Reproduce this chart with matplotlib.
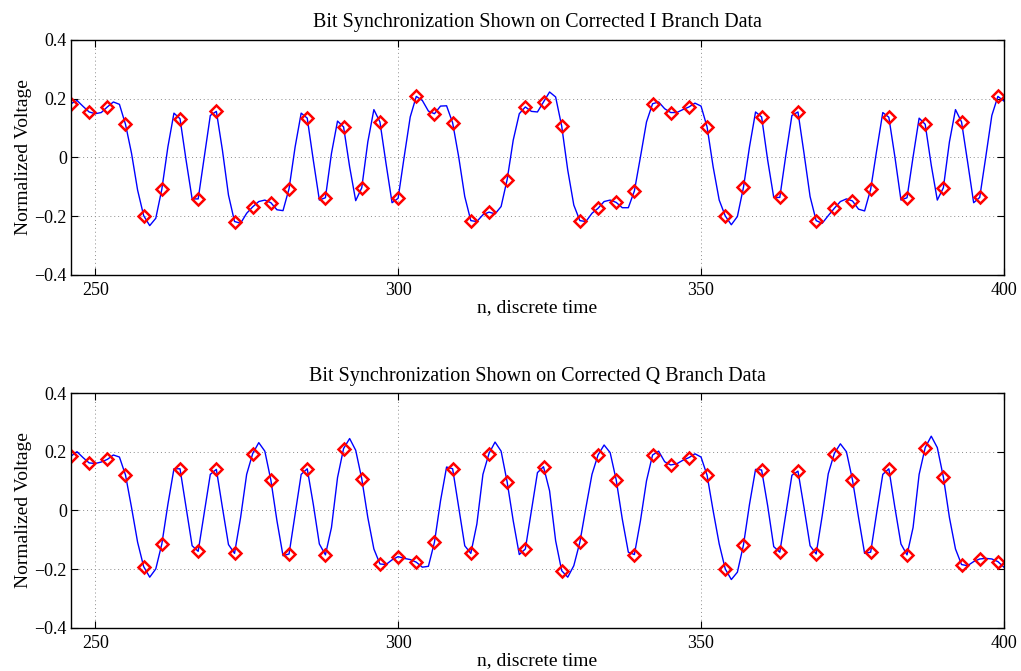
import numpy as np
import matplotlib.pyplot as plt

plt.rcParams['font.family'] = ['Liberation Serif', 'DejaVu Serif']
plt.rcParams['axes.unicode_minus'] = True

# discrete time index
n = np.arange(246, 401)

# corrected I branch samples
i_branch = [
    0.183, 0.194, 0.174, 0.155, 0.149, 0.153, 0.172, 0.189, 0.181, 0.113,
    0.014, -0.111, -0.198, -0.232, -0.207, -0.108, 0.036, 0.151, 0.132, -0.009,
    -0.141, -0.141, 0.002, 0.143, 0.157, 0.025, -0.128, -0.218, -0.224, -0.190,
    -0.168, -0.150, -0.145, -0.154, -0.178, -0.181, -0.106, 0.036, 0.151, 0.134,
    -0.009, -0.145, -0.137, 0.014, 0.124, 0.104, -0.032, -0.147, -0.103, 0.053,
    0.163, 0.121, -0.020, -0.154, -0.139, 0.002, 0.138, 0.208, 0.194, 0.158,
    0.149, 0.175, 0.176, 0.118, 0.002, -0.133, -0.215, -0.218, -0.195, -0.186,
    -0.192, -0.167, -0.075, 0.059, 0.149, 0.172, 0.157, 0.155, 0.189, 0.223,
    0.206, 0.107, -0.043, -0.162, -0.215, -0.218, -0.190, -0.173, -0.150, -0.145,
    -0.153, -0.171, -0.171, -0.114, 0.002, 0.121, 0.183, 0.189, 0.166, 0.153,
    0.153, 0.163, 0.172, 0.185, 0.175, 0.104, -0.032, -0.145, -0.199, -0.229,
    -0.201, -0.102, 0.036, 0.155, 0.138, -0.009, -0.136, -0.136, 0.008, 0.143,
    0.155, 0.014, -0.133, -0.215, -0.224, -0.198, -0.173, -0.150, -0.141, -0.148,
    -0.176, -0.182, -0.108, 0.025, 0.153, 0.137, 0.002, -0.145, -0.137, 0.002,
    0.134, 0.113, -0.026, -0.145, -0.103, 0.053, 0.163, 0.121, -0.015, -0.154,
    -0.136, 0.002, 0.143, 0.208, 0.192,
]

# corrected Q branch samples
q_branch = [
    0.185, 0.200, 0.180, 0.162, 0.160, 0.165, 0.174, 0.189, 0.182, 0.121,
    0.010, -0.108, -0.191, -0.227, -0.199, -0.114, 0.021, 0.142, 0.142, 0.010,
    -0.120, -0.139, -0.007, 0.123, 0.140, 0.010, -0.116, -0.146, -0.024, 0.123,
    0.194, 0.231, 0.202, 0.103, -0.035, -0.154, -0.148, -0.012, 0.123, 0.142,
    0.021, -0.114, -0.151, -0.058, 0.112, 0.211, 0.245, 0.205, 0.108, -0.024,
    -0.131, -0.182, -0.184, -0.168, -0.157, -0.163, -0.167, -0.176, -0.193, -0.190,
    -0.108, 0.033, 0.148, 0.142, 0.010, -0.120, -0.146, -0.046, 0.123, 0.194,
    0.233, 0.202, 0.097, -0.035, -0.150, -0.131, -0.001, 0.129, 0.149, 0.067,
    -0.103, -0.205, -0.227, -0.188, -0.108, 0.010, 0.123, 0.189, 0.223, 0.197,
    0.104, -0.029, -0.142, -0.150, -0.035, 0.101, 0.189, 0.202, 0.166, 0.155,
    0.159, 0.171, 0.180, 0.193, 0.182, 0.120, -0.001, -0.114, -0.199, -0.235,
    -0.210, -0.118, 0.021, 0.140, 0.138, 0.016, -0.123, -0.142, -0.012, 0.120,
    0.134, 0.010, -0.120, -0.148, -0.018, 0.125, 0.194, 0.227, 0.200, 0.104,
    -0.024, -0.146, -0.142, -0.007, 0.123, 0.142, 0.010, -0.114, -0.151, -0.058,
    0.123, 0.214, 0.253, 0.214, 0.114, -0.024, -0.131, -0.184, -0.188, -0.174,
    -0.165, -0.163, -0.165, -0.174, -0.193,
]

# symbol-rate decision points: every third sample
step = 3

fig = plt.figure(figsize=(10.21, 6.71), dpi=100)
ax_i = fig.add_axes([0.0695, 0.5902, 0.9138, 0.3502])
ax_q = fig.add_axes([0.0695, 0.0641, 0.9138, 0.3502])

panels = [
    (ax_i, i_branch, 'Bit Synchronization Shown on Corrected I Branch Data'),
    (ax_q, q_branch, 'Bit Synchronization Shown on Corrected Q Branch Data'),
]

for ax, vals, title in panels:
    vals = np.array(vals)
    ax.plot(n, vals, color='#0000ff', linewidth=1.0)
    ax.plot(n[::step], vals[::step], linestyle='none', marker='D',
            markersize=6, markerfacecolor='none', markeredgecolor='#ff0000',
            markeredgewidth=1.8)
    ax.set_xlim(246, 400)
    ax.set_ylim(-0.4, 0.4)
    ax.set_xticks([250, 300, 350, 400])
    ax.set_yticks([-0.4, -0.2, 0, 0.2, 0.4])
    ax.set_yticklabels(['\u22120.4', '\u22120.2', '0', '0.2', '0.4'])
    ax.grid(True, linestyle=(0, (1, 3)), color='0.55', linewidth=0.7)
    ax.tick_params(direction='in', top=True, right=True, length=5,
                   labelsize=13)
    ax.tick_params(axis='y', pad=3)
    ax.tick_params(axis='x', pad=5)
    for sp in ax.spines.values():
        sp.set_linewidth(1.0)
    ax.set_title(title, fontsize=14.5, pad=9)
    ax.set_xlabel('n, discrete time', fontsize=14, labelpad=0)
    ax.set_ylabel('Normalized Voltage', fontsize=14, labelpad=2)

fig.savefig('out.png', dpi=100)
